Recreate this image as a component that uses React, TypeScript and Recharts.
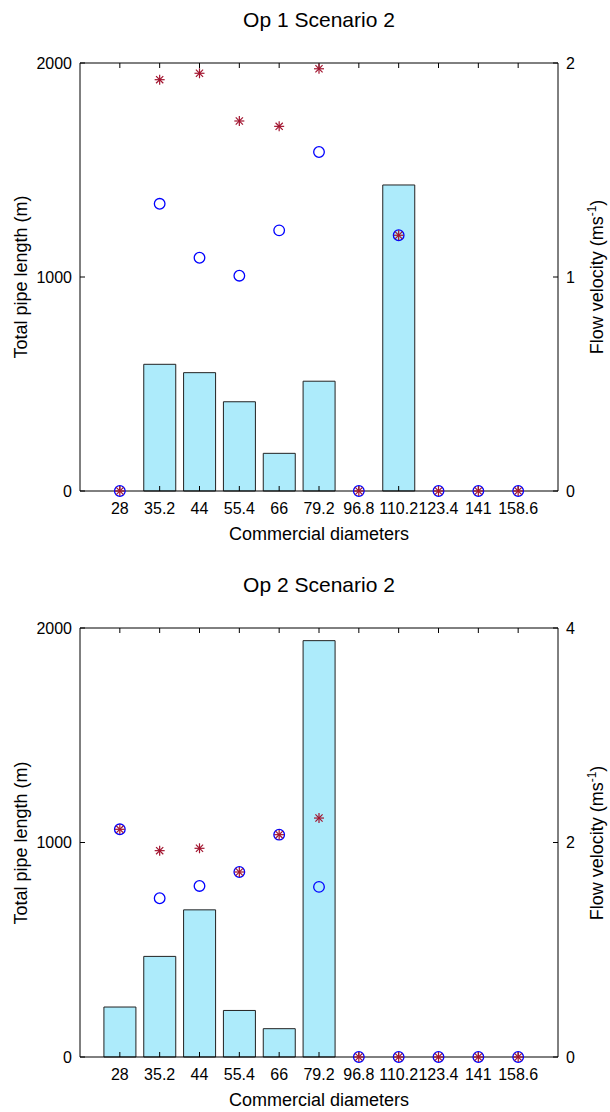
import React from "react";
import { ComposedChart, Bar, Scatter, XAxis, YAxis } from "recharts";

const diameters = ["28", "35.2", "44", "55.4", "66", "79.2", "96.8", "110.2", "123.4", "141", "158.6"];

const op1Length = [0, 592, 553, 417, 176, 513, 0, 1430, 0, 0, 0];
const op1Circle = [0, 1.342, 1.09, 1.006, 1.218, 1.584, 0, 1.195, 0, 0, 0];
const op1Star = [0, 1.922, 1.952, 1.729, 1.704, 1.973, 0, 1.195, 0, 0, 0];

const op2Length = [233, 469, 686, 217, 132, 1941, 0, 0, 0, 0, 0];
const op2Circle = [2.123, 1.48, 1.595, 1.725, 2.073, 1.586, 0, 0, 0, 0, 0];
const op2Star = [2.123, 1.924, 1.946, 1.725, 2.073, 2.228, 0, 0, 0, 0, 0];

const lengthTicks = [0, 1000, 2000];
const velTicks1 = [0, 1, 2];
const velTicks2 = [0, 2, 4];

const FONT = '"Liberation Sans", Arial, Helvetica, sans-serif';
const positions = diameters.map((_, i) => i + 1);

const build = (len: number[], circ: number[], star: number[]) =>
  diameters.map((d, i) => ({ pos: i + 1, name: d, length: len[i], circ: circ[i], star: star[i] }));

const Circle = (p: any) => (
  <circle cx={p.cx} cy={p.cy} r={5.3} fill="none" stroke="#0000ff" strokeWidth={1.3} />
);

const Star = (p: any) => {
  const { cx, cy } = p;
  const s = 5;
  const d = 3.6;
  return (
    <g stroke="#a2142f" strokeWidth={1.2}>
      <line x1={cx - s} y1={cy} x2={cx + s} y2={cy} />
      <line x1={cx} y1={cy - s} x2={cx} y2={cy + s} />
      <line x1={cx - d} y1={cy - d} x2={cx + d} y2={cy + d} />
      <line x1={cx - d} y1={cy + d} x2={cx + d} y2={cy - d} />
    </g>
  );
};

const tickStyle = { fontSize: 16, fill: "#000", fontFamily: FONT };

function Panel(props: {
  top: number;
  title: string;
  data: any[];
  velMax: number;
  velTicks: number[];
  plotTop: number;
  plotBottom: number;
}) {
  const { top, title, data, velMax, velTicks, plotTop, plotBottom } = props;
  const midY = (plotTop + plotBottom) / 2;
  return (
    <div style={{ position: "absolute", left: 0, top, width: 610, height: 556 }}>
      <ComposedChart
        width={610}
        height={556}
        data={data}
        margin={{ top: plotTop - 1, right: 51, bottom: 556 - plotBottom - 1, left: 79 }}
      >
        <XAxis
          dataKey="pos"
          type="number"
          domain={[0, 12]}
          ticks={positions}
          interval={0}
          tickFormatter={(v: number) => diameters[v - 1]}
          height={1}
          tickSize={-5}
          tickMargin={17}
          stroke="#000"
          tick={tickStyle}
        />
        <XAxis
          xAxisId="top"
          dataKey="pos"
          orientation="top"
          type="number"
          domain={[0, 12]}
          ticks={positions}
          interval={0}
          tickFormatter={() => ""}
          height={1}
          tickSize={-5}
          stroke="#000"
        />
        <YAxis
          yAxisId="left"
          domain={[0, 2000]}
          ticks={lengthTicks}
          width={1}
          tickSize={-5}
          tickMargin={13}
          stroke="#000"
          tick={tickStyle}
        />
        <YAxis
          yAxisId="right"
          orientation="right"
          domain={[0, velMax]}
          ticks={velTicks}
          width={1}
          tickSize={-5}
          tickMargin={13}
          stroke="#000"
          tick={tickStyle}
        />
        <Bar
          yAxisId="left"
          dataKey="length"
          barSize={32}
          fill="#adebfb"
          stroke="#222"
          strokeWidth={1}
          isAnimationActive={false}
        />
        <Scatter yAxisId="right" dataKey="circ" shape={Circle} isAnimationActive={false} />
        <Scatter yAxisId="right" dataKey="star" shape={Star} isAnimationActive={false} />
      </ComposedChart>
      <div
        style={{
          position: "absolute",
          left: 80,
          width: 478,
          top: plotTop - 55,
          textAlign: "center",
          fontFamily: FONT,
          fontSize: 21,
          lineHeight: "24px",
        }}
      >
        {title}
      </div>
      <div
        style={{
          position: "absolute",
          left: 80,
          width: 478,
          top: plotBottom + 33,
          textAlign: "center",
          fontFamily: FONT,
          fontSize: 18,
          lineHeight: "20px",
        }}
      >
        Commercial diameters
      </div>
      <div
        style={{
          position: "absolute",
          left: 21,
          top: midY,
          transform: "translate(-50%, -50%) rotate(-90deg)",
          whiteSpace: "nowrap",
          fontFamily: FONT,
          fontSize: 18,
          lineHeight: "20px",
        }}
      >
        Total pipe length (m)
      </div>
      <div
        style={{
          position: "absolute",
          left: 597,
          top: midY,
          transform: "translate(-50%, -50%) rotate(-90deg)",
          whiteSpace: "nowrap",
          fontFamily: FONT,
          fontSize: 18,
          lineHeight: "20px",
        }}
      >
        Flow velocity (ms<sup style={{ fontSize: 12, lineHeight: 0 }}>-1</sup>)
      </div>
    </div>
  );
}

export default function App() {
  const data1 = build(op1Length, op1Circle, op1Star);
  const data2 = build(op2Length, op2Circle, op2Star);
  return (
    <div style={{ position: "absolute", left: 0, top: 0, width: 610, height: 1112, background: "#fff" }}>
      <Panel
        top={0}
        title="Op 1 Scenario 2"
        data={data1}
        velMax={2}
        velTicks={velTicks1}
        plotTop={63}
        plotBottom={491}
      />
      <Panel
        top={556}
        title="Op 2 Scenario 2"
        data={data2}
        velMax={4}
        velTicks={velTicks2}
        plotTop={72}
        plotBottom={501}
      />
    </div>
  );
}
